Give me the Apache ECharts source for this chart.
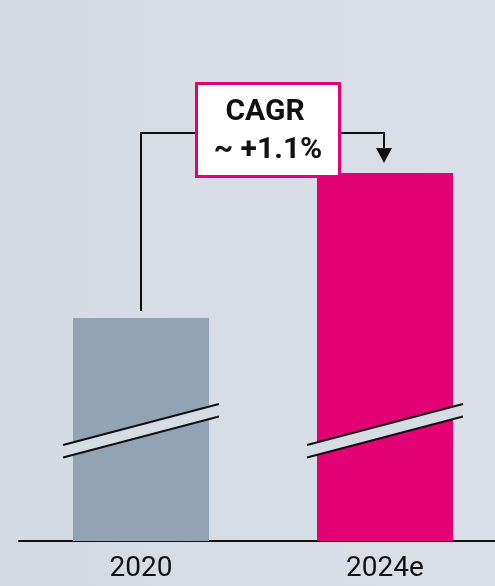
<!DOCTYPE html>
<html>
<head>
<meta charset="utf-8">
<script src="https://cdn.jsdelivr.net/npm/echarts@6/dist/echarts.min.js"></script>
<style>
  html, body { margin: 0; padding: 0; }
  #chart {
    width: 495px; height: 586px;
    background: linear-gradient(90deg, #d3dae1 0%, #d8dee5 55%, #dbdfe7 100%);
  }
</style>
</head>
<body>
<div id="chart"></div>
<script>
var categories = ['2020', '2024e'];
var values = [100, 104.5];          // index, axis is cut (see break marks)
var barColors = ['#92a4b4', '#e20074'];
var breakValue = 96.5;              // where the cut marks sit
var cagrLines = ['CAGR', '~ +1.1%'];

var myChart = echarts.init(document.getElementById('chart'));
var bgColor = '#d6dce3';
var magenta = '#e20074';

// diagonal double line showing the cut axis
function renderBreak(params, api){
	var c = api.coord([api.value(0), api.value(1)]);
	var cx = c[0], cy = c[1];
	var hw = 78, d = 20.5, g = 6.25;
	var up = [[cx - hw, cy - g + d], [cx + hw, cy - g - d]];
	var low = [[cx - hw, cy + g + d], [cx + hw, cy + g - d]];
	return {
		type: 'group',
		children: [
			{type: 'polygon', shape: {points: [up[0], up[1], low[1], low[0]]}, style: {fill: bgColor}},
			{type: 'line', shape: {x1: up[0][0], y1: up[0][1], x2: up[1][0], y2: up[1][1]}, style: {stroke: '#111', lineWidth: 2}},
			{type: 'line', shape: {x1: low[0][0], y1: low[0][1], x2: low[1][0], y2: low[1][1]}, style: {stroke: '#111', lineWidth: 2}}
		]
	};
}

// bracket from first bar to second bar with the CAGR box
function renderCagr(params, api){
	var p0 = api.coord([0, values[0]]);
	var p1 = api.coord([1, values[1]]);
	var yb = p1[1] - 40;
	var cx = (p0[0] + p1[0]) / 2 + 5;
	var boxL = cx - 73, boxR = cx + 73;
	var top = yb - 51, bottom = yb + 45;
	var ax = p1[0] - 1;
	return {
		type: 'group',
		children: [
			{type: 'polyline', shape: {points: [[p0[0], p0[1] - 7], [p0[0], yb], [boxL, yb]]}, style: {stroke: '#111', lineWidth: 2, fill: null}},
			{type: 'polyline', shape: {points: [[boxR, yb], [ax, yb], [ax, yb + 16]]}, style: {stroke: '#111', lineWidth: 2, fill: null}},
			{type: 'polygon', shape: {points: [[ax - 8, yb + 15], [ax + 8, yb + 15], [ax, yb + 30]]}, style: {fill: '#111'}},
			{type: 'rect', shape: {x: boxL + 1.5, y: top + 1.5, width: boxR - boxL - 3, height: bottom - top - 3}, style: {fill: '#fff', stroke: magenta, lineWidth: 3}},
			{type: 'text', x: cx - 3, y: top + 30, style: {text: cagrLines[0], fill: '#111', font: 'bold 30px Roboto', align: 'center', verticalAlign: 'middle'}},
			{type: 'text', x: cx, y: top + 68, style: {text: cagrLines[1], fill: '#111', font: 'bold 30px Roboto', align: 'center', verticalAlign: 'middle'}}
		]
	};
}

var option = {
	animation: false,
	grid: {left: 19, right: -12, top: 0, bottom: 45, outerBoundsMode: 'none', containLabel: false},
	xAxis: {
		type: 'category',
		data: categories,
		axisLine: {lineStyle: {color: '#111', width: 2}},
		axisTick: {show: false},
		axisLabel: {color: '#111', fontSize: 28, fontFamily: 'Roboto', margin: 14}
	},
	yAxis: {
		type: 'value',
		min: 93.08,
		max: 109.87,
		show: false,
		splitLine: {show: false}
	},
	series: [
		{
			type: 'bar',
			barWidth: 136,
			data: values.map(function(v, i){
				return {value: v, itemStyle: {color: barColors[i]}};
			})
		},
		{
			type: 'custom',
			renderItem: renderBreak,
			clip: false,
			z: 5,
			data: categories.map(function(c, i){ return [i, breakValue]; })
		},
		{
			type: 'custom',
			renderItem: renderCagr,
			clip: false,
			z: 6,
			data: [[0, values[0]]]
		}
	]
};

myChart.setOption(option);
</script>
</body>
</html>
